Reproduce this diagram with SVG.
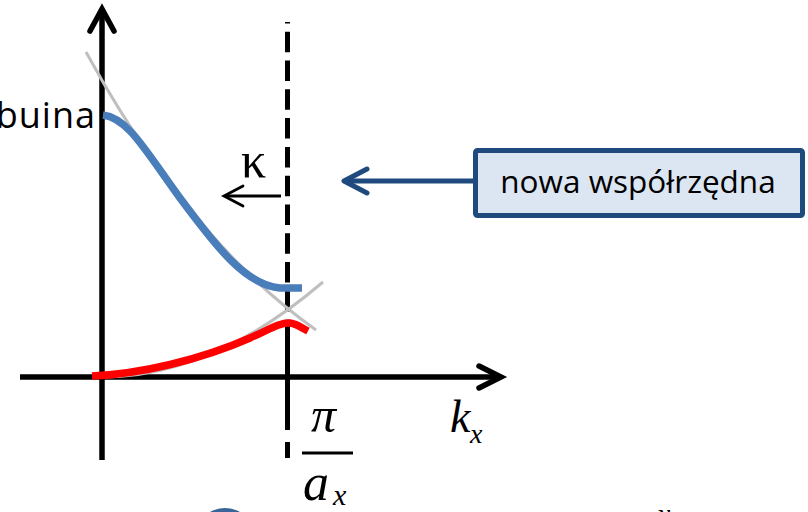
<svg xmlns="http://www.w3.org/2000/svg" width="808" height="512" viewBox="0 0 808 512">
  <defs>
    <style>
      .axis { stroke: #000; stroke-width: 5.5; fill: none; stroke-linecap: butt; }
      .head { stroke: #000; stroke-width: 5.5; fill: none; stroke-linecap: round; stroke-linejoin: miter; }
      .gray { stroke: #BFBFBF; stroke-width: 3; fill: none; }
      .band { stroke-width: 7.5; fill: none; stroke-linecap: butt; }
      .sans { font-family: "Open Sans", "Liberation Sans", sans-serif; fill: #000; }
      .math { font-family: "Liberation Serif", "DejaVu Serif", serif; font-style: italic; fill: #000; }
      .blueline { stroke: #1F4A7E; stroke-width: 5; fill: none; stroke-linecap: round; stroke-linejoin: round; }
    </style>
  </defs>

  <rect x="0" y="0" width="808" height="512" fill="#fff"/>

  <g id="axes">
    <line class="axis" x1="102" y1="460" x2="102" y2="10"/>
    <polyline class="head" points="90,31 102,9 114,31"/>
    <line class="axis" x1="20" y1="377" x2="500" y2="377"/>
    <polyline class="head" points="479,366 501,377 479,388"/>
  </g>

  <g id="zone-boundary">
    <line x1="287.5" y1="22" x2="287.5" y2="322" stroke="#000" stroke-width="5" stroke-dasharray="20.5 8.3" stroke-dashoffset="19.1"/>
    <line x1="287.5" y1="320" x2="287.5" y2="430" stroke="#000" stroke-width="5"/>
    <line x1="287.5" y1="442" x2="287.5" y2="458" stroke="#000" stroke-width="5"/>
  </g>

  <g id="free-parabolas">
    <path class="gray" d="M86,52 Q188.4,239.4 316,330"/>
    <path class="gray" d="M102,377 Q212,377 323,282"/>
  </g>

  <g id="upper-band">
    <path class="band" stroke="#4A7EBB" d="M103,115 C128,118 145,150 180,198 C215,245 245,285 280,288 L302,288"/>
  </g>

  <g id="lower-band">
    <path class="band" stroke="#FF0000" d="M92,376 C140,374 200,360 250,338 C270,329 281,322 290,323 C297,324 302,328 308,331"/>
  </g>

  <g id="label-buina">
    <text class="sans" x="96" y="128" font-size="36" text-anchor="end" letter-spacing="1">buina</text>
  </g>

  <g id="label-kappa">
    <text x="241" y="177" font-family="Liberation Serif, DejaVu Serif, serif" font-size="50" fill="#000">κ</text>
  </g>

  <g id="label-kx">
    <text class="math" x="450" y="432" font-size="46">k</text>
    <text class="math" x="470" y="443" font-size="28">x</text>
  </g>

  <g id="label-pi-over-ax">
    <text class="math" x="311" y="432" font-size="50">π</text>
    <line x1="302" y1="453" x2="353" y2="453" stroke="#000" stroke-width="3"/>
    <text class="math" x="303" y="500" font-size="52">a</text>
    <text class="math" x="333" y="505" font-size="30">x</text>
  </g>

  <g id="box-nowa">
    <rect x="475.5" y="150.5" width="327" height="65" rx="2" fill="#DCE6F2" stroke="#1F4A7E" stroke-width="5"/>
    <text class="sans" x="638" y="193" font-size="31.5" text-anchor="middle">nowa współrzędna</text>
  </g>

  <g id="connectors">
    <line class="blueline" x1="473" y1="181" x2="346" y2="181"/>
    <polyline class="blueline" points="367,169 344,181 367,193"/>
    <line x1="281" y1="196" x2="225" y2="196" stroke="#000" stroke-width="2.8"/>
    <polyline points="243,186 224,196 243,206" stroke="#000" stroke-width="2.8" fill="none" stroke-linecap="round"/>
  </g>

  <g id="cut-off-fragments">
    <circle cx="225" cy="538" r="30" fill="#3A6599"/>
    <text class="math" x="657" y="524" font-size="30" fill="#3B4F7A">x</text>
  </g>
</svg>
